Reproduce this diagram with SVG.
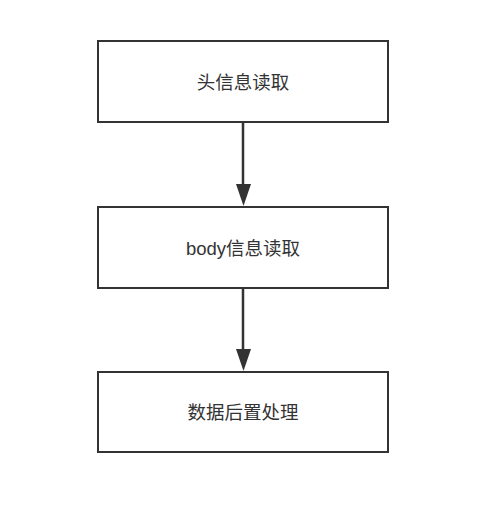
<svg xmlns="http://www.w3.org/2000/svg" width="500" height="530" viewBox="0 0 500 530">
<style>
.box{fill:#fff;stroke:#333;stroke-width:2}
.lbl{font-family:"Liberation Sans","Noto Sans CJK SC",sans-serif;font-size:18.5px;fill:#333;text-anchor:middle;dominant-baseline:central}
.conn{stroke:#333;stroke-width:2.5;fill:none}
.head{fill:#333}
</style>
<rect width="500" height="530" fill="#fff"/>
<g id="connectors">
<line class="conn" x1="243" y1="122" x2="243" y2="186"/>
<path class="head" d="M236,184 L251,184 L243.5,206 Z"/>
<line class="conn" x1="243" y1="288" x2="243" y2="350"/>
<path class="head" d="M236,349 L251,349 L243.5,371 Z"/>
</g>
<g id="n1">
<rect class="box" x="98" y="41" width="290" height="81"/>
<text class="lbl" x="243" y="82">头信息读取</text>
</g>
<g id="n2">
<rect class="box" x="98" y="207" width="290" height="81"/>
<text class="lbl" x="243" y="248">body信息读取</text>
</g>
<g id="n3">
<rect class="box" x="98" y="372" width="290" height="80"/>
<text class="lbl" x="243" y="412">数据后置处理</text>
</g>
</svg>
